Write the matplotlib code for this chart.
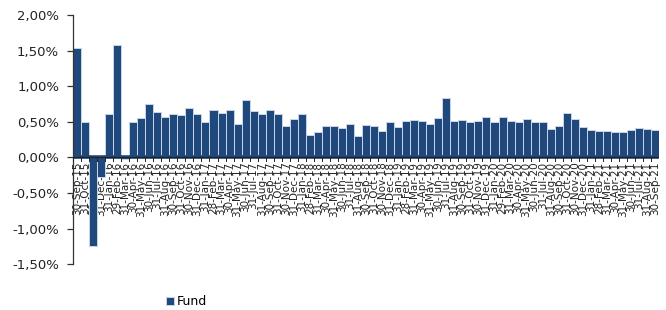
import matplotlib
matplotlib.use("Agg")
import matplotlib.pyplot as plt
import matplotlib.ticker as mticker
import pandas as pd
import numpy as np

# Month-end dates (tick labels)
months = [d.strftime("%d-%b-%y") for d in pd.date_range("2015-09-30", "2021-09-30", freq="ME")]

# Monthly fund returns in %
fund = [1.53, 0.50, -1.25, -0.27, 0.615, 1.58, -0.03, 0.50, 0.55, 0.75,
        0.64, 0.57, 0.615, 0.59, 0.70, 0.615, 0.50, 0.66, 0.62, 0.67,
        0.465, 0.80, 0.65, 0.605, 0.67, 0.615, 0.44, 0.545, 0.615, 0.31,
        0.36, 0.445, 0.445, 0.41, 0.47, 0.30, 0.46, 0.445, 0.37, 0.50,
        0.43, 0.515, 0.53, 0.515, 0.47, 0.55, 0.83, 0.515, 0.525, 0.49,
        0.515, 0.56, 0.49, 0.56, 0.515, 0.50, 0.545, 0.49, 0.49, 0.40,
        0.445, 0.62, 0.535, 0.42, 0.39, 0.375, 0.375, 0.36, 0.35, 0.39,
        0.41, 0.405, 0.39]

series_name = "Fund"
yticks = [-1.5, -1.0, -0.5, 0.0, 0.5, 1.0, 1.5, 2.0]

bar_color = "#1F497D"
edge_color = "#C9D5E8"

fig = plt.figure(figsize=(6.66, 3.10), dpi=100)
ax = fig.add_axes([0.1096, 0.148, 0.880, 0.8036])

x = np.arange(len(fund))
bars = ax.bar(x, fund, width=1.0, color=bar_color, edgecolor=edge_color,
              linewidth=0.7, label=series_name, zorder=2)

ax.set_xlim(-0.5, len(fund) - 0.5)
ax.set_ylim(-1.5, 2.0)

# dark band at the zero line
ax.axhline(0, color=bar_color, lw=2.6, zorder=3)
ax.axhline(0, color="#222222", lw=0.9, zorder=4)

ax.spines["top"].set_visible(False)
ax.spines["right"].set_visible(False)
ax.spines["bottom"].set_visible(False)
ax.spines["left"].set_color("#333333")
ax.spines["left"].set_linewidth(0.9)

ax.set_yticks(yticks)
ax.yaxis.set_major_formatter(mticker.FuncFormatter(lambda v, p: f"{v:.2f}%".replace(".", ",")))
ax.tick_params(axis="y", direction="out", length=4, width=0.9, color="#333333",
               labelsize=9.5, labelcolor="#222222", pad=6)

# x tick labels just below the zero line
ax.set_xticks(x)
ax.set_xticklabels(months, rotation=90, fontsize=7.5, color="#222222")
ax.tick_params(axis="x", length=0, pad=0)
for lbl in ax.get_xticklabels():
    lbl.set_verticalalignment("top")
    lbl.set_y(0)
trans = ax.get_xaxis_transform()
from matplotlib.transforms import offset_copy
for lbl in ax.get_xticklabels():
    lbl.set_transform(offset_copy(ax.transData, fig=fig, x=0, y=-3, units="points"))
    lbl.set_position((lbl.get_position()[0], 0))

# small tick marks at bar boundaries on zero line
ax.set_xticks(np.arange(-0.5, len(fund), 1.0), minor=True)
ax.tick_params(axis="x", which="minor", length=0)
for xb in np.arange(-0.5, len(fund), 1.0):
    ax.plot([xb, xb], [0, -0.05], color="#222222", lw=0.7, zorder=5)

leg = fig.legend(handles=[bars], labels=[series_name], loc="center",
                 bbox_to_anchor=(0.28, 0.026), frameon=False, fontsize=9,
                 handlelength=0.7, handleheight=0.7, handletextpad=0.2)

fig.savefig("out.png", dpi=100)
